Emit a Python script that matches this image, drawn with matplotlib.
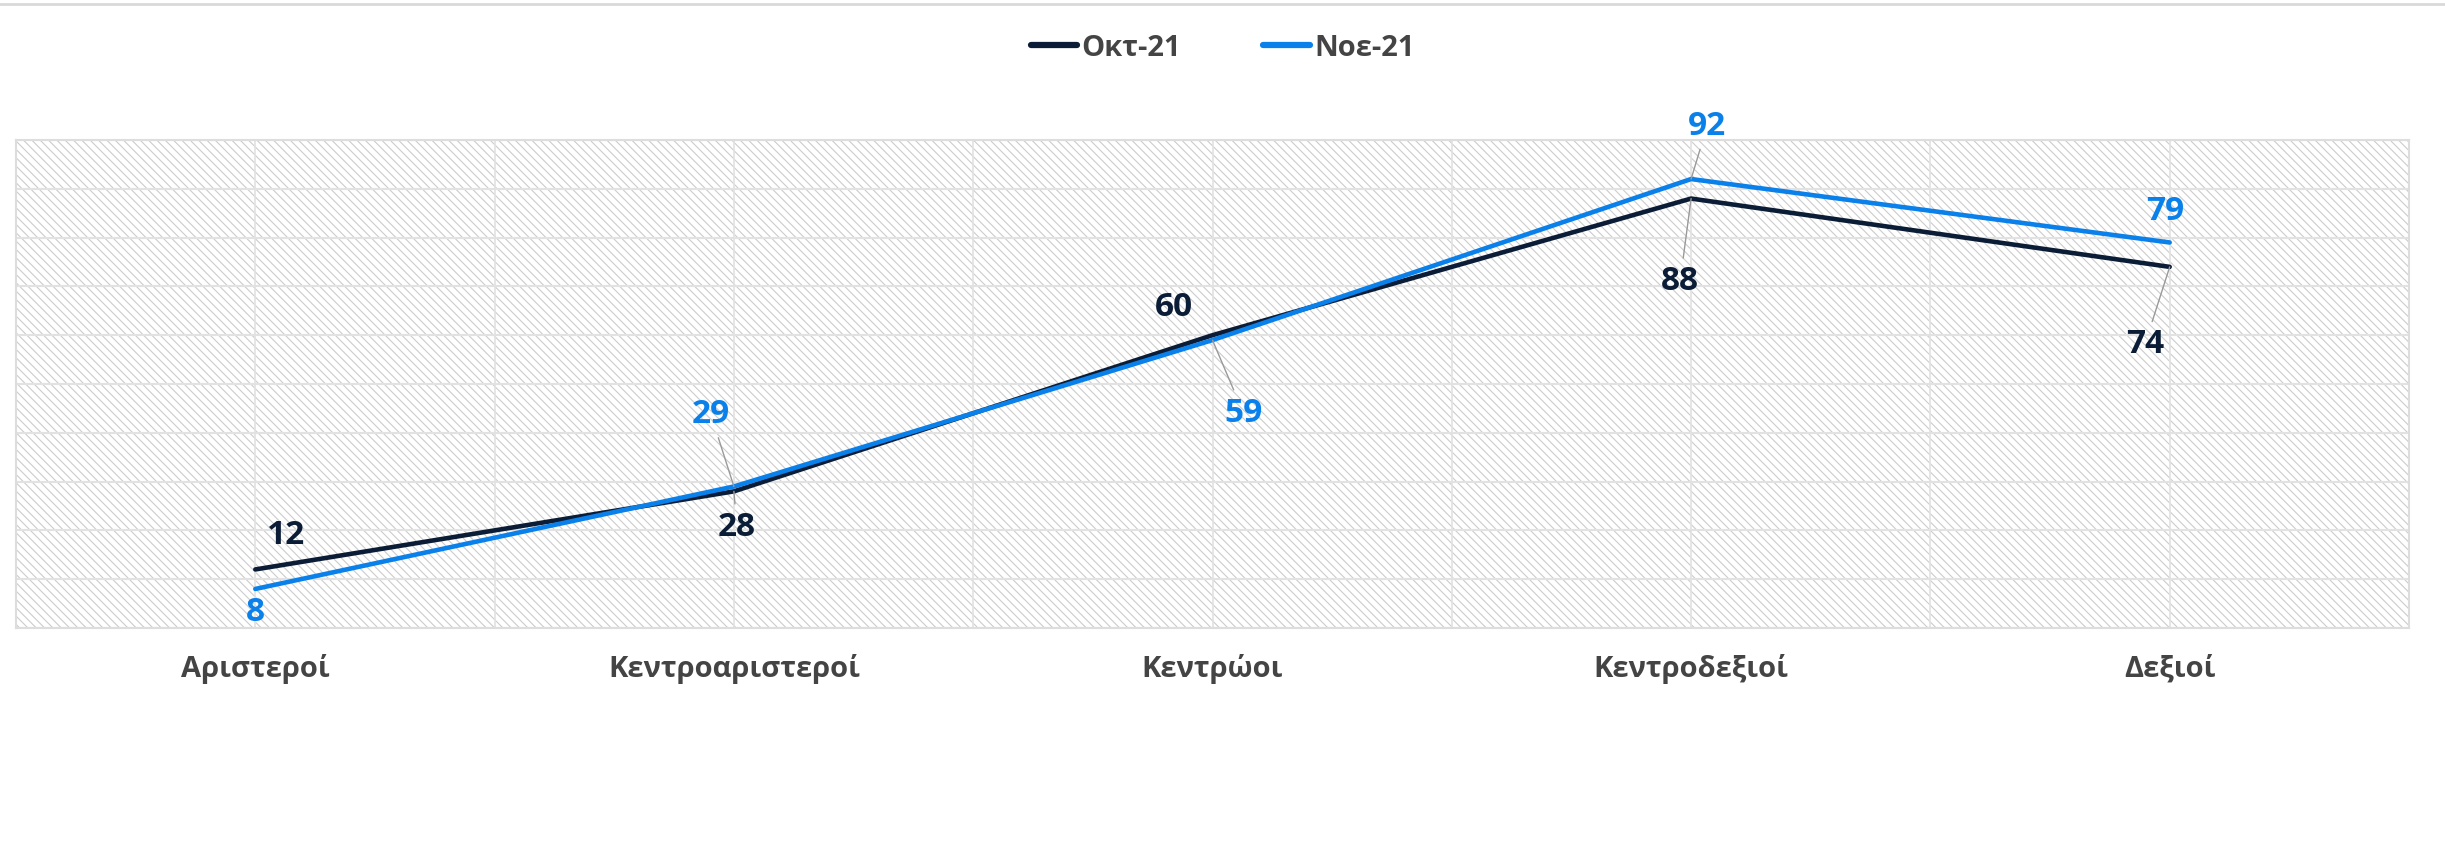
import matplotlib
matplotlib.use("Agg")
import matplotlib.pyplot as plt
from matplotlib.patches import Rectangle
from matplotlib.lines import Line2D

categories = ['Αριστεροί', 'Κεντροαριστεροί', 'Κεντρώοι', 'Κεντροδεξιοί', 'Δεξιοί']
oct_21 = [12, 28, 60, 88, 74]
nov_21 = [8, 29, 59, 92, 79]
series_names = ['Οκτ-21', 'Νοε-21']

# label offsets in pixels (dx, dy up-positive) and whether a leader line is drawn
oct_offsets = [(31, 34, False), (3, -36, True), (-39, 28, False), (-11, -83, True), (-25, -78, True)]
nov_offsets = [(0, -24, False), (-23, 72, True), (31, -73, True), (16, 53, True), (-5, 31, False)]

C_OCT = '#0b1d36'
C_NOV = '#0a80ea'
C_TEXT = '#444444'
FONT = ['Open Sans', 'DejaVu Sans']

plt.rcParams['font.family'] = FONT
plt.rcParams['hatch.linewidth'] = 0.8

fig = plt.figure(figsize=(24.45, 8.52), dpi=100)
ax = fig.add_axes([16 / 2445, 1 - 628 / 852, (2409 - 16) / 2445, 488 / 852])

x = list(range(len(categories)))
ax.set_xlim(-0.5, len(categories) - 0.5)
ax.set_ylim(0, 100)

bg = Rectangle((0, 0), 1, 1, transform=ax.transAxes, facecolor='white',
               edgecolor='#cccccc', linewidth=0, hatch='\\\\\\\\', zorder=0)
ax.add_patch(bg)
ax.set_facecolor('white')

for gx in [i * 0.5 - 0.5 for i in range(2 * len(categories) + 1)]:
    ax.axvline(gx, color='#e2e2e2', lw=1.2, zorder=1)
for gy in range(0, 101, 10):
    ax.axhline(gy, color='#e2e2e2', lw=1.5, zorder=1)

for s in ax.spines.values():
    s.set_color('#dddddd')
    s.set_linewidth(1.5)

ax.plot(x, oct_21, color=C_OCT, lw=3.3, solid_capstyle='round', solid_joinstyle='round', zorder=3)
ax.plot(x, nov_21, color=C_NOV, lw=3.3, solid_capstyle='round', solid_joinstyle='round', zorder=4)

def label(vals, offs, color):
    for xi, v, (dx, dy, lead) in zip(x, vals, offs):
        ap = dict(arrowstyle='-', color='#9a9a9a', lw=1, shrinkA=3, shrinkB=0) if lead else None
        ax.annotate(str(v), xy=(xi, v), xytext=(dx, dy), textcoords='offset pixels',
                    ha='center', va='center', fontsize=24, fontweight='bold', color=color,
                    arrowprops=ap, zorder=5, annotation_clip=False)

label(oct_21, oct_offsets, C_OCT)
label(nov_21, nov_offsets, C_NOV)

ax.set_xticks(x)
ax.set_xticklabels(categories, fontsize=21, fontweight='bold', color=C_TEXT)
ax.set_yticks([])
ax.tick_params(axis='x', length=0, pad=19)

handles = [Line2D([], [], color=C_OCT, lw=4.5, solid_capstyle='round'),
           Line2D([], [], color=C_NOV, lw=4.5, solid_capstyle='round')]
leg = fig.legend(handles, series_names, loc='center', bbox_to_anchor=(0.5, 1 - 48 / 852),
                 ncol=2, frameon=False, handlelength=1.6, handletextpad=0.15, columnspacing=2.8,
                 prop={'family': FONT, 'weight': 'bold', 'size': 21})
for t in leg.get_texts():
    t.set_color(C_TEXT)

fig.add_artist(Line2D([0, 1], [1 - 4 / 852, 1 - 4 / 852], transform=fig.transFigure, color='#d9d9d9', lw=2))

fig.savefig('out.png', dpi=100, facecolor='white')
